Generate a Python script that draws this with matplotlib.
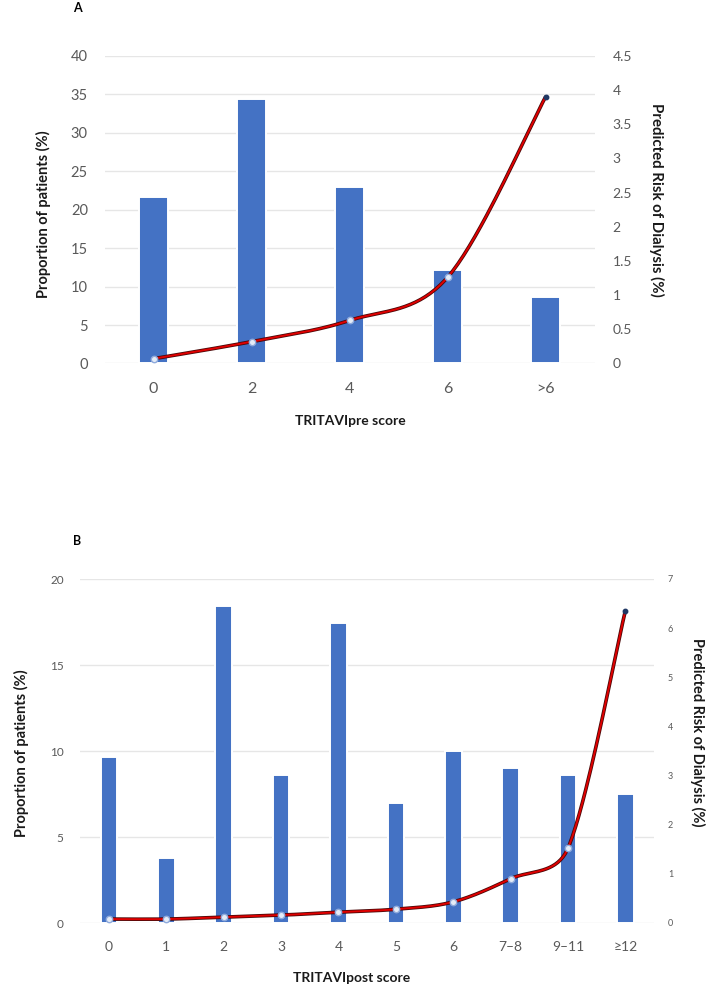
import numpy as np
import matplotlib
matplotlib.use("Agg")
import matplotlib.pyplot as plt

plt.rcParams['font.family'] = ['Lato', 'DejaVu Sans']

# ---------------- data ----------------
cats_a = ["0", "2", "4", "6", ">6"]
prop_a = [21.6, 34.4, 23.0, 12.1, 8.6]
risk_a = [0.07, 0.32, 0.63, 1.26, 3.90]

cats_b = ["0", "1", "2", "3", "4", "5", "6", "7\u20138", "9\u201311", "\u226512"]
prop_b = [9.68, 3.78, 18.43, 8.6, 17.43, 6.99, 10.0, 9.0, 8.6, 7.49]
risk_b = [0.08, 0.08, 0.12, 0.16, 0.22, 0.28, 0.43, 0.90, 1.52, 6.35]

xlabel_a = "TRITAVIpre score"
xlabel_b = "TRITAVIpost score"
ylabel_l = "Proportion of patients (%)"
ylabel_r = "Predicted Risk of Dialysis (%)"

W, H = 709, 989
fig = plt.figure(figsize=(W / 100, H / 100), dpi=100)

BLUE = "#4472C4"
GRID = "#e6e6e6"
TICK = "#595959"


def box(l, t, r, b):
    return [l / W, 1 - b / H, (r - l) / W, (b - t) / H]


def _cap(v, limit):
    n = np.hypot(*v)
    return v if n <= limit or n == 0 else v * (limit / n)


def smooth(ax, xs, ys, n=40):
    """Excel-style smoothed line (Bezier with Catmull-Rom control points) in display space."""
    pts = ax.transData.transform(np.column_stack([xs, ys]))
    out = []
    m = len(pts)
    for i in range(m - 1):
        p0 = pts[i - 1] if i > 0 else pts[i]
        p1 = pts[i]
        p2 = pts[i + 1]
        p3 = pts[i + 2] if i + 2 < m else pts[i + 1]
        seglen = np.hypot(*(p2 - p1))
        c1 = p1 + _cap((p2 - p0) / 6.0, seglen * 0.45)
        c2 = p2 - _cap((p3 - p1) / 6.0, seglen * 0.45)
        t = np.linspace(0, 1, n)[:, None]
        seg = ((1 - t) ** 3) * p1 + 3 * ((1 - t) ** 2) * t * c1 + 3 * (1 - t) * t ** 2 * c2 + t ** 3 * p2
        out.append(seg if i == 0 else seg[1:])
    out = np.vstack(out)
    return ax.transData.inverted().transform(out)


def panel(rect, cats, prop, risk, ymax_l, yticks_l, ymax_r, yticks_r, rlabels,
          bar_w, fs_lt, fs_rt, fs_xt, xt_pad, lt_pad, rt_pad):
    ax = fig.add_axes(rect)
    x = np.arange(len(cats))
    ax.set_xlim(-0.5, len(cats) - 0.5)
    ax.set_ylim(0, ymax_l)
    ax.set_yticks(yticks_l)
    ax.set_yticklabels([str(v) for v in yticks_l])
    ax.grid(axis='y', color=GRID, linewidth=1.0, zorder=0)
    ax.set_axisbelow(True)
    for s in ax.spines.values():
        s.set_visible(False)
    ax.bar(x, prop, width=bar_w, color=BLUE, edgecolor='white', linewidth=1.4, zorder=2)
    ax.set_xticks(x)
    ax.set_xticklabels(cats)
    ax.tick_params(axis='x', length=0, labelsize=fs_xt, labelcolor=TICK, pad=xt_pad)
    ax.tick_params(axis='y', length=0, labelsize=fs_lt, labelcolor=TICK, pad=lt_pad)

    ax2 = ax.twinx()
    ax2.set_ylim(0, ymax_r)
    ax2.set_yticks(yticks_r)
    ax2.set_yticklabels(rlabels)
    ax2.tick_params(axis='y', length=0, labelsize=fs_rt, labelcolor=TICK, pad=rt_pad)
    for s in ax2.spines.values():
        s.set_visible(False)
    curve = smooth(ax2, x.astype(float), np.array(risk, dtype=float))
    ax2.plot(curve[:, 0], curve[:, 1], color="#4a0808", linewidth=2.6, solid_capstyle='round', zorder=3)
    ax2.plot(curve[:, 0], curve[:, 1], color="#e00000", linewidth=1.4, solid_capstyle='round', zorder=4)
    ax2.plot(x[:-1], risk[:-1], linestyle='none', marker='o', markersize=4.6,
             markerfacecolor="#e4ecf7", markeredgecolor="#8faadc", markeredgewidth=1.0, zorder=5)
    ax2.plot(x[-1:], risk[-1:], linestyle='none', marker='o', markersize=3.2,
             markerfacecolor="#203864", markeredgecolor="#203864", zorder=5)
    return ax, ax2


# ---------------- panel A ----------------
yt_a = list(range(0, 41, 5))
rt_a = [0, 0.5, 1, 1.5, 2, 2.5, 3, 3.5, 4, 4.5]
rl_a = ["0", "0.5", "1", "1.5", "2", "2.5", "3", "3.5", "4", "4.5"]
panel(box(104.5, 56, 594.5, 363.5), cats_a, prop_a, risk_a, 40, yt_a, 4.5, rt_a, rl_a,
      bar_w=0.29, fs_lt=10.5, fs_rt=10, fs_xt=11.5, xt_pad=13, lt_pad=12, rt_pad=13)

fig.text(77 / W, 1 - 8 / H, "A", ha='center', va='center', fontsize=9, fontweight='bold')
fig.text(43 / W, 1 - 214 / H, ylabel_l, rotation=90, ha='center', va='center',
         fontsize=10.5, fontweight='bold', color='#1a1a1a')
fig.text(657 / W, 1 - 200 / H, ylabel_r, rotation=270, ha='center', va='center',
         fontsize=10.8, fontweight='bold', color='#1a1a1a')
fig.text(350 / W, 1 - 421 / H, xlabel_a, ha='center', va='center',
         fontsize=10, fontweight='bold', color='#1a1a1a')

# ---------------- panel B ----------------
yt_b = [0, 5, 10, 15, 20]
rt_b = list(range(0, 8))
rl_b = [str(v) for v in rt_b]
panel(box(80.3, 579, 654, 923), cats_b, prop_b, risk_b, 20, yt_b, 7, rt_b, rl_b,
      bar_w=0.29, fs_lt=8.5, fs_rt=6.5, fs_xt=10, xt_pad=13, lt_pad=12, rt_pad=10)

fig.text(77 / W, 1 - 541 / H, "B", ha='center', va='center', fontsize=9, fontweight='bold')
fig.text(21 / W, 1 - 753 / H, ylabel_l, rotation=90, ha='center', va='center',
         fontsize=10.5, fontweight='bold', color='#1a1a1a')
fig.text(698 / W, 1 - 732 / H, ylabel_r, rotation=270, ha='center', va='center',
         fontsize=10.5, fontweight='bold', color='#1a1a1a')
fig.text(352 / W, 1 - 978 / H, xlabel_b, ha='center', va='center',
         fontsize=10, fontweight='bold', color='#1a1a1a')

fig.savefig("out.png", dpi=100)
